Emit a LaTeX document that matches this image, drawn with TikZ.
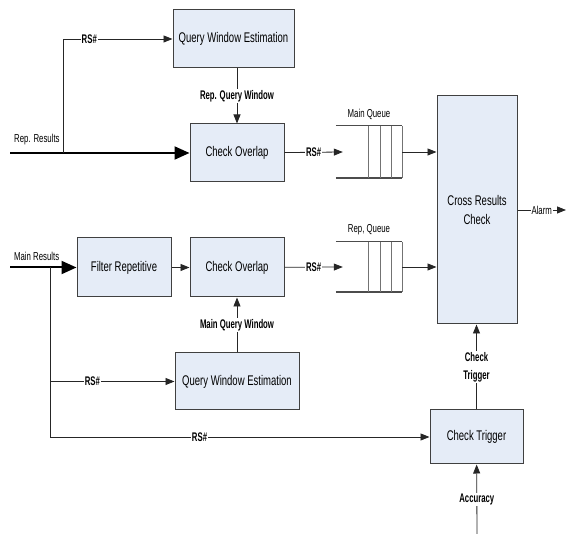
\documentclass[tikz,border=0pt]{standalone}
\usepackage{fontspec}
\setmainfont{Liberation Sans}[FakeStretch=0.68]
\newfontfamily\tagfont{Liberation Sans}[FakeStretch=0.62]
\usepackage{tikz}
\usetikzlibrary{arrows.meta, positioning, calc}
\definecolor{boxbg}{rgb}{0.9,0.925,0.97}
\definecolor{boxline}{rgb}{0.25,0.25,0.25}

\begin{document}
\begin{tikzpicture}[
    x=1pt, y=-1pt,
    block/.style={rectangle, draw=boxline, fill=boxbg, line width=1pt, minimum width=94pt, minimum height=58pt, inner sep=0pt, align=center, font=\fontsize{14}{17}\selectfont},
    queue/.style={rectangle, minimum width=66pt, minimum height=52pt, inner sep=0pt},
    tag/.style={font=\tagfont\bfseries\fontsize{12.5}{15}\selectfont, fill=white, inner sep=1pt, align=center},
    note/.style={font=\fontsize{11.5}{14}\selectfont, inner sep=1pt},
    edge/.style={-{Triangle[length=9pt,width=7pt]}, line width=0.8pt, draw=black!85},
    input/.style={-{Triangle[length=15pt,width=13pt]}, line width=2pt, draw=black},
    slot/.style={line width=0.7pt, draw=black!55},
    rail/.style={line width=1.4pt, draw=black!70}
]
\useasboundingbox (0,0) rectangle (566,534);

% Nodes
\node[block, minimum width=121pt] (qweA) at (233.5,39) {Query Window Estimation};
\node[block] (overA) at (237,153) {Check Overlap};
\node[block, minimum height=59pt] (filter) at (124,267.5) {Filter Repetitive};
\node[block, minimum height=59pt] (overB) at (237,267.5) {Check Overlap};
\node[block, minimum width=124pt, minimum height=57pt] (qweB) at (237,381.5) {Query Window Estimation};
\node[block, minimum width=80pt, minimum height=228pt] (cross) at (477,210) {Cross Results\\[2pt]Check};
\node[block, minimum width=93pt, minimum height=54pt] (trigger) at (476.5,437) {Check Trigger};
\node[queue] (mainq) at (369,152) {};
\node[queue, minimum height=50pt] (repq) at (369,267) {};
\node[note, above=5pt of mainq] (mainqlbl) {Main Queue};
\node[note, above=6pt of repq] (repqlbl) {Rep, Queue};

% Queues
\foreach \q in {mainq, repq} {
  \draw[rail] (\q.north west) -- (\q.north east);
  \draw[rail] (\q.south west) -- (\q.south east);
  \foreach \f in {0.485, 0.667, 0.833, 1}
    \draw[slot] ($(\q.north west)!\f!(\q.north east)$) -- ($(\q.south west)!\f!(\q.south east)$);
}

% Inputs and outputs
\coordinate (repin) at (10,153);
\coordinate (repsplit) at (63,153);
\coordinate (mainin) at (10,267.5);
\coordinate (mainsplit) at (50,267.5);
\coordinate (alarm) at (566,210);
\coordinate (accin) at (477,534);

% Edges
\draw[input] (repin) -- node[note, above=6pt, pos=0.15] (replbl) {Rep. Results} (overA);
\draw[edge] (repsplit) |- node[tag, pos=0.62] {RS\#} (qweA);
\draw[edge] (qweA.south -| overA) -- node[tag] {Rep. Query Window} (overA);
\draw[edge] (overA) -- node[tag] {RS\#} ($(mainq.west)+(7,0)$);
\draw[edge] (mainq.east) -- (mainq.east -| cross.west);
\draw[edge] (cross) -- node[note, fill=white] {Alarm} (alarm);

\draw[input] (mainin) -- node[note, above=5pt, pos=0.4] (mainlbl) {Main Results} (filter);
\draw[edge] (filter) -- (overB);
\draw[edge] (overB) -- node[tag] {RS\#} ($(repq.west)+(7,0)$);
\draw[edge] (repq.east) -- (repq.east -| cross.west);
\draw[edge] (mainsplit) |- node[tag, pos=0.697] {RS\#} (trigger);
\draw[edge] (mainsplit |- qweB) -- node[tag, pos=0.34] {RS\#} (qweB);
\draw[edge] (qweB.north -| overB) -- node[tag] {Main Query Window} (overB);
\draw[edge] (trigger) -- node[tag] {Check\\[3pt]Trigger} (trigger |- cross.south);
\draw[edge] (accin) -- node[tag] {Accuracy} (trigger);

\end{tikzpicture}
\end{document}
